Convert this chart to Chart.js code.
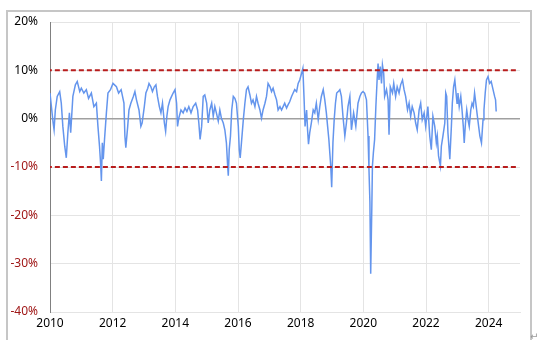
<!DOCTYPE html>
<html>
<head>
<meta charset="utf-8">
<script src="https://cdn.jsdelivr.net/npm/chart.js@4.4.1/dist/chart.umd.min.js"></script>
<style>
  body { margin: 0; background: #fff; }
  #wrap { position: relative; width: 540px; height: 349px; }
  #frame { position: absolute; left: 6px; top: 10px; width: 522px; height: 328px;
           border: 2px solid #c6c6c6; border-bottom: none; }
  #ret { position: absolute; left: 530px; top: 331px; font: 10px 'DejaVu Sans', sans-serif; color: #999; }
</style>
</head>
<body>
<div id="wrap">
  <div id="frame"></div>
  <canvas id="rateChart" width="540" height="349"></canvas>
  <span id="ret">↵</span>
</div>
<script>
// 年（小数）と値（%）
const years = [
  2010.00,2010.10,2010.13,2010.17,2010.23,2010.31,2010.36,2010.41,2010.47,2010.52,
  2010.57,2010.62,2010.66,2010.73,2010.81,2010.87,2010.95,2011.00,2011.08,2011.16,
  2011.23,2011.32,2011.40,2011.48,2011.53,2011.58,2011.62,2011.64,2011.67,2011.70,
  2011.74,2011.80,2011.85,2011.93,2012.01,2012.12,2012.19,2012.27,2012.36,2012.39,
  2012.42,2012.48,2012.52,2012.58,2012.66,2012.71,2012.76,2012.84,2012.90,2012.94,
  2013.01,2013.06,2013.12,2013.16,2013.22,2013.27,2013.33,2013.38,2013.43,2013.49,
  2013.54,2013.59,2013.65,2013.69,2013.73,2013.77,2013.83,2013.88,2013.93,2013.99,
  2014.04,2014.07,2014.11,2014.18,2014.25,2014.31,2014.37,2014.43,2014.50,2014.57,
  2014.65,2014.71,2014.75,2014.79,2014.84,2014.89,2014.94,2015.00,2015.05,2015.10,
  2015.16,2015.21,2015.26,2015.31,2015.37,2015.42,2015.47,2015.53,2015.58,2015.63,
  2015.67,2015.69,2015.72,2015.76,2015.80,2015.85,2015.90,2015.95,2016.01,2016.04,
  2016.07,2016.11,2016.17,2016.22,2016.27,2016.32,2016.38,2016.43,2016.48,2016.54,
  2016.59,2016.64,2016.70,2016.75,2016.80,2016.86,2016.91,2016.96,2017.02,2017.07,
  2017.12,2017.18,2017.23,2017.28,2017.34,2017.39,2017.44,2017.49,2017.55,2017.60,
  2017.65,2017.71,2017.76,2017.81,2017.87,2017.92,2017.97,2018.03,2018.07,2018.11,
  2018.14,2018.19,2018.22,2018.25,2018.29,2018.34,2018.40,2018.45,2018.50,2018.56,
  2018.61,2018.66,2018.72,2018.77,2018.82,2018.86,2018.90,2018.93,2018.96,2018.99,
  2019.03,2019.07,2019.11,2019.15,2019.20,2019.25,2019.30,2019.35,2019.41,2019.46,
  2019.51,2019.57,2019.62,2019.69,2019.76,2019.83,2019.89,2019.94,2019.99,2020.04,
  2020.10,2020.15,2020.18,2020.21,2020.235,2020.27,2020.29,2020.32,2020.36,2020.40,
  2020.44,2020.47,2020.50,2020.54,2020.58,2020.61,2020.65,2020.68,2020.74,2020.79,
  2020.82,2020.86,2020.93,2020.97,2021.03,2021.08,2021.14,2021.19,2021.25,2021.30,
  2021.35,2021.41,2021.46,2021.51,2021.56,2021.62,2021.67,2021.72,2021.78,2021.83,
  2021.88,2021.94,2021.99,2022.06,2022.12,2022.17,2022.22,2022.28,2022.33,2022.36,
  2022.40,2022.46,2022.49,2022.54,2022.60,2022.63,2022.66,2022.70,2022.76,2022.81,
  2022.84,2022.88,2022.92,2022.95,2022.99,2023.02,2023.06,2023.11,2023.15,2023.19,
  2023.22,2023.26,2023.30,2023.34,2023.38,2023.43,2023.47,2023.51,2023.55,2023.59,
  2023.64,2023.68,2023.72,2023.77,2023.82,2023.85,2023.89,2023.93,2023.98,2024.03,
  2024.08,2024.14,2024.19,2024.22,2024.24
];
const values = [
  5.3,-0.9,-2.3,1.8,4.6,5.6,3.2,-1.6,-5.7,-8.1,
  -2.9,1.2,-2.9,4.6,7.0,7.7,5.6,6.3,5.3,6.0,
  4.2,5.3,2.5,3.2,-1.6,-5.7,-9.8,-12.9,-5.0,-8.4,
  -4.3,1.2,5.3,6.0,7.3,6.6,5.3,6.0,3.2,-3.6,
  -6.0,-1.6,1.8,3.2,4.6,5.6,3.9,1.8,-1.6,-0.9,
  2.5,5.3,6.3,7.3,6.6,5.6,6.6,7.0,4.6,2.5,
  1.2,3.2,-0.9,-2.6,0.5,2.5,3.9,4.6,5.3,6.0,
  3.2,-1.6,0.1,1.8,1.2,2.2,1.5,2.5,1.2,2.5,
  3.2,1.8,-0.9,-4.3,-1.6,4.6,4.9,3.2,-0.9,1.8,
  3.2,0.5,2.5,1.2,-0.5,1.8,0.1,-0.9,-2.3,-5.0,
  -9.8,-11.8,-6.4,-3.6,1.8,4.6,4.2,3.2,-1.6,-6.4,
  -8.1,-5.0,-0.2,3.2,6.0,6.6,4.9,3.2,3.9,2.5,
  4.6,3.2,1.8,0.1,1.8,3.2,4.6,7.3,6.6,5.6,
  6.3,4.9,3.9,1.8,2.5,1.8,2.5,3.2,2.2,2.9,
  3.5,4.6,5.3,6.0,5.6,7.3,8.0,9.4,10.4,3.9,
  -1.6,1.8,-2.3,-5.3,-2.9,-0.9,1.8,1.2,3.2,-0.2,
  2.5,4.6,6.0,3.9,1.2,-1.6,-4.3,-7.1,-9.8,-14.2,
  -5.0,-0.2,3.2,5.3,5.6,6.0,4.6,0.5,-3.6,-0.9,
  2.5,4.6,-2.3,1.2,-1.6,3.2,4.6,5.3,5.6,5.3,
  3.9,-3.6,-10.5,-17.3,-32.1,-18.7,-9.8,-7.1,-4.3,2.5,
  8.0,11.4,8.0,10.8,7.3,11.1,9.4,4.6,6.0,3.9,
  -3.3,6.6,5.3,7.3,4.6,6.6,5.3,7.0,8.0,6.0,
  4.6,1.8,3.2,0.5,2.5,1.2,-0.9,-2.3,1.8,3.2,
  -0.2,1.2,-1.6,2.5,-3.6,-6.4,0.5,-1.6,-5.0,-3.6,
  -7.7,-9.8,-5.7,-3.6,-0.9,5.3,4.6,-2.9,-8.4,-1.6,
  3.2,6.6,8.0,5.9,3.2,5.3,2.5,4.6,1.8,-1.6,
  -5.0,-0.9,1.8,-0.2,-1.6,1.8,3.2,2.5,5.3,3.2,
  0.5,-1.6,-3.6,-5.0,-0.2,1.8,5.3,8.0,8.7,7.3,
  7.7,6.0,4.6,3.9,1.5
];
// ±10% 基準線
const bandLevels = [10, -10];
const xTicks = [2010, 2012, 2014, 2016, 2018, 2020, 2022, 2024];
const yTicks = [20, 10, 0, -10, -20, -30, -40];

document.addEventListener('DOMContentLoaded', function() {
  const ctx = document.getElementById('rateChart');
  const font = { family: "'Liberation Sans Narrow', 'Noto Sans', sans-serif", size: 12 };

  const bandSets = bandLevels.map(v => ({
    data: [{ x: 2009.9, y: v }, { x: 2024.9, y: v }],
    borderColor: '#b81c1c',
    borderWidth: 2,
    borderDash: [5, 3],
    pointRadius: 0
  }));

  new Chart(ctx, {
    type: 'line',
    data: {
      datasets: [
        ...bandSets,
        {
          data: years.map((x, i) => ({ x: x, y: values[i] })),
          borderColor: '#6495ed',
          borderWidth: 1.5,
          pointRadius: 0,
          tension: 0
        }
      ]
    },
    options: {
      responsive: false,
      animation: false,
      layout: { padding: { top: 22, right: 20, left: 0, bottom: 0 } },
      plugins: { legend: { display: false }, tooltip: { enabled: false } },
      scales: {
        x: {
          type: 'linear',
          min: 2010,
          max: 2025,
          afterBuildTicks: s => { s.ticks = xTicks.map(v => ({ value: v })); },
          afterFit: s => { s.height = 37; },
          ticks: { color: '#000', font: font, padding: 4, callback: v => String(v) },
          grid: { color: '#e4e4e4', lineWidth: 1, drawTicks: false },
          border: { color: '#e4e4e4' }
        },
        y: {
          min: -40,
          max: 20,
          afterBuildTicks: s => { s.ticks = yTicks.map(v => ({ value: v })); },
          afterFit: s => { s.width = 50; },
          ticks: {
            font: font,
            padding: 12,
            color: c => (c.tick && c.tick.value < 0 ? '#a01818' : '#000'),
            callback: v => v + '%'
          },
          grid: {
            drawTicks: false,
            color: c => (c.tick && c.tick.value === 0 ? '#a0a0a0' : '#e4e4e4'),
            lineWidth: c => (c.tick && c.tick.value === 0 ? 1.5 : 1)
          },
          border: { color: '#808080', width: 1 }
        }
      }
    }
  });
});
</script>
</body>
</html>
